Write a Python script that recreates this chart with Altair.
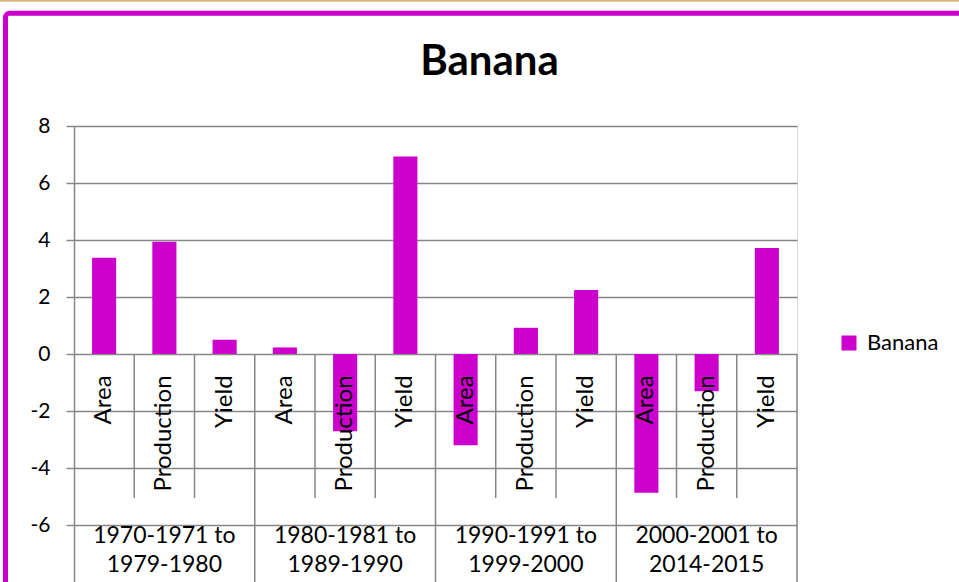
import altair as alt
import pandas as pd

# Growth rates (%) of banana by decade, per component
periods = [
    "1970-1971 to\n1979-1980",
    "1980-1981 to\n1989-1990",
    "1990-1991 to\n1999-2000",
    "2000-2001 to\n2014-2015",
]
items = ["Area", "Production", "Yield"]
area = [3.38, 0.23, -3.20, -4.87]
production = [3.94, -2.71, 0.92, -1.31]
yield_rate = [0.50, 6.93, 2.25, 3.72]
y_ticks = [-6, -4, -2, 0, 2, 4, 6, 8]
series_name = "Banana"

MAGENTA = "#CC00CC"
GRID = "#878787"
FONT = "Lato"

rows = []
for i, p in enumerate(periods):
    for item, vals in zip(items, [area, production, yield_rate]):
        rows.append({"key": f"{i}:{item}", "period": p, "item": item,
                     "value": vals[i], "series": series_name})
df = pd.DataFrame(rows)
keys = list(df["key"])

xscale = alt.Scale(domain=keys, paddingInner=0, paddingOuter=0)
yscale = alt.Scale(domain=[-8, 8], nice=False, zero=False)


def xenc(band=0.5):
    return alt.X("key:N", sort=keys, scale=xscale, axis=None, bandPosition=band)


base = alt.Chart(df).transform_calculate(
    zero="0",
    div_bottom="datum.item == 'Yield' ? -8 : -5.05",
    inner_y="-0.75",
    outer_y="-6",
)

# outer frame of the chart object
frame = alt.Chart(alt.InlineData(values=[{"k": 0}])).mark_rect(
    filled=False, stroke=MAGENTA, strokeWidth=5, cornerRadius=4
).encode(
    x=alt.value(-68.5), x2=alt.value(1000),
    y=alt.value(-112.7), y2=alt.value(700),
)
top_line = alt.Chart(alt.InlineData(values=[{"k": 0}])).mark_rule(
    color="#D9B680", strokeWidth=2
).encode(x=alt.value(-80), x2=alt.value(1000), y=alt.value(-125.2))

bars = base.mark_bar(width=alt.RelativeBandSize(0.4)).encode(
    x=xenc(),
    y=alt.Y(
        "value:Q", scale=yscale, title=None,
        axis=alt.Axis(
            values=y_ticks, grid=True, gridColor=GRID, gridWidth=1.5,
            domain=True, domainColor=GRID, domainWidth=1.5,
            ticks=True, tickColor=GRID, tickWidth=1.5, tickSize=8,
            labelFont=FONT, labelFontSize=21, labelColor="black",
            labelPadding=16, labelExpr="'' + datum.value",
        ),
    ),
    y2=alt.Y2("zero:Q"),
    color=alt.Color(
        "series:N", scale=alt.Scale(range=[MAGENTA]),
        legend=alt.Legend(
            title=None, orient="none", legendX=764, legendY=206,
            symbolType="square", symbolSize=225, symbolStrokeWidth=0,
            labelFont=FONT, labelFontSize=22, labelColor="black",
            labelOffset=7, padding=0,
        ),
    ),
)

# category separators: short ones inside a period, long ones between periods
dividers = base.mark_rule(color=GRID, strokeWidth=1.5).encode(
    x=xenc(1), y=alt.Y("zero:Q"), y2=alt.Y2("div_bottom:Q")
)

inner_labels = base.mark_text(
    angle=270, align="right", baseline="middle",
    font=FONT, fontSize=24, color="black",
).encode(x=xenc(), y=alt.Y("inner_y:Q"), text="item:N")

outer_labels = base.transform_filter(
    "datum.item == 'Production'"
).mark_text(
    align="center", baseline="top", lineBreak="\n", lineHeight=29,
    font=FONT, fontSize=23, color="black",
).encode(x=xenc(), y=alt.Y("outer_y:Q"), text="period:N")

chart = alt.layer(
    frame, top_line, bars, dividers, inner_labels, outer_labels
).properties(
    width=723, height=456,
    padding={"left": 74, "top": 126, "right": 162, "bottom": 0},
    autosize=alt.AutoSizeParams(type="none"),
    title=alt.Title(
        "Banana", font=FONT, fontSize=42, fontWeight="bold", color="black",
        anchor="middle", dx=54, offset=-117, frame="group", baseline="alphabetic",
    ),
).configure_view(stroke=None).configure(background="white")

chart.save("out.html", embed_options={"renderer": "svg", "actions": False})
